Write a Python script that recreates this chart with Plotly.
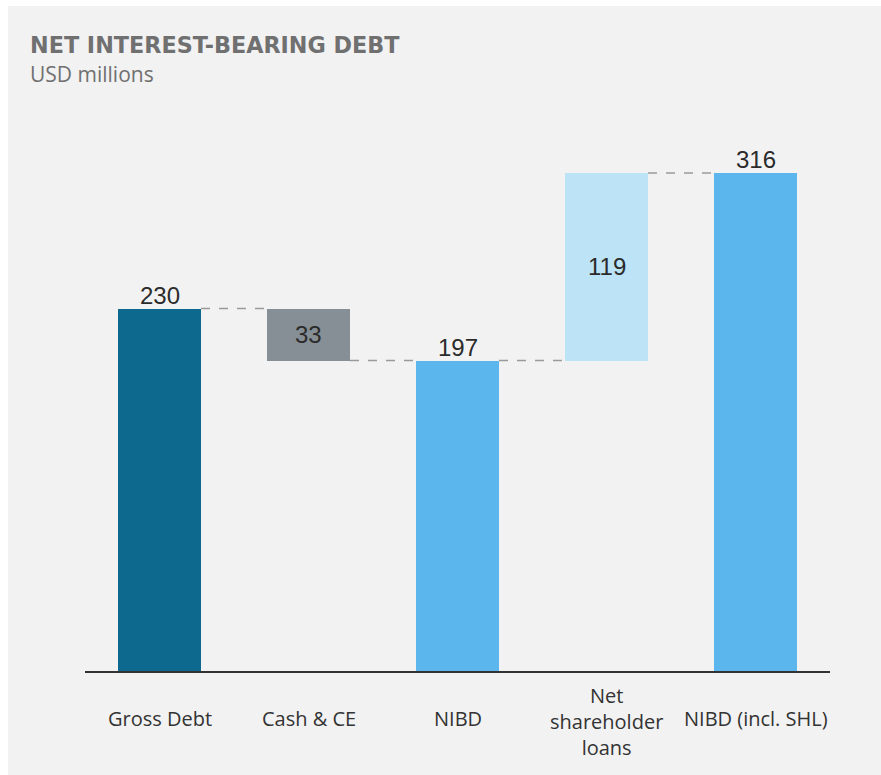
import plotly.graph_objects as go

categories = ["Gross Debt", "Cash & CE", "NIBD", "Net<br>shareholder<br>loans", "NIBD (incl. SHL)"]
values = [230, -33, 197, 119, 316]
measures = ["total", "relative", "total", "relative", "total"]
labels = ["230", "33", "197", "119", "316"]
colors = ["#0d6a8e", "#868f95", "#5ab6ec", "#bde3f7", "#5ab6ec"]

W, H = 881, 775
ml, mr, mt, mb = 85, 51, 110, 104
pw, ph = W - ml - mr, H - mt - mb
ymax = 356

# compute bases / heights from data
bases, heights, tops = [], [], []
running = 0
for v, m in zip(values, measures):
    if m == "total":
        bases.append(0); heights.append(v); running = v; tops.append(v)
    else:
        if v < 0:
            bases.append(running + v); heights.append(-v); tops.append(running)
        else:
            bases.append(running); heights.append(v); tops.append(running + v)
        running += v

x = list(range(len(categories)))
bw = 0.557

fig = go.Figure()
fig.add_trace(go.Bar(x=x, y=heights, base=bases, width=bw,
                     marker=dict(color=colors, line=dict(width=0)),
                     hoverinfo="skip", showlegend=False))

# connectors
levels = []
running = 0
for v, m in zip(values, measures):
    running = v if m == "total" else running + v
    levels.append(running)
for i in range(len(x) - 1):
    fig.add_shape(type="line", xref="x", yref="y",
                  x0=i + bw / 2, x1=i + 1 - bw / 2, y0=levels[i], y1=levels[i],
                  line=dict(color="#9a9a9a", width=1.5, dash="dash"))

# value labels
vfont = dict(family="Liberation Sans, Arial", size=24, color="#2b2b2b")
for i, (m, lab) in enumerate(zip(measures, labels)):
    if m == "total":
        fig.add_annotation(x=i, y=tops[i], text=lab, showarrow=False, yanchor="bottom",
                           yshift=-2, font=vfont)
    else:
        fig.add_annotation(x=i, y=bases[i] + heights[i] / 2, text=lab, showarrow=False,
                           yanchor="middle", font=vfont)

# category labels
for i, c in enumerate(categories):
    yc = 719 if "<br>" not in c else 721
    fig.add_annotation(x=i, xref="x", yref="paper", y=-(yc - 671) / ph, text=c,
                       showarrow=False, yanchor="middle",
                       font=dict(family="Open Sans", size=20, color="#333333"))

# title texts
fig.add_annotation(xref="paper", yref="paper", x=(28 - ml) / pw, y=(671 - 45) / ph,
                   xanchor="left", yanchor="middle", showarrow=False,
                   text="<b>NET INTEREST-BEARING DEBT</b>",
                   font=dict(family="DejaVu Sans", size=22.3, color="#707070"))
fig.add_annotation(xref="paper", yref="paper", x=(28 - ml) / pw, y=(671 - 74) / ph,
                   xanchor="left", yanchor="middle", showarrow=False,
                   text="USD millions",
                   font=dict(family="Open Sans", size=21, color="#707070"))

# white borders at top and left
fig.add_shape(type="rect", xref="paper", yref="paper", layer="below",
              x0=-ml / pw, x1=(W - ml) / pw, y0=(671 - 6) / ph, y1=671 / ph,
              fillcolor="white", line=dict(width=0))
fig.add_shape(type="rect", xref="paper", yref="paper", layer="below",
              x0=-ml / pw, x1=(8 - ml) / pw, y0=-mb / ph, y1=671 / ph,
              fillcolor="white", line=dict(width=0))

fig.update_layout(
    width=W, height=H,
    margin=dict(l=ml, r=mr, t=mt, b=mb),
    paper_bgcolor="#f2f2f2", plot_bgcolor="#f2f2f2",
    xaxis=dict(range=[-0.5, 4.5], showticklabels=False, showgrid=False, zeroline=False,
               showline=True, linecolor="#333333", linewidth=2, ticks=""),
    yaxis=dict(range=[0, ymax], visible=False, showgrid=False, zeroline=False),
    bargap=0,
)

fig.write_html("out.html")
